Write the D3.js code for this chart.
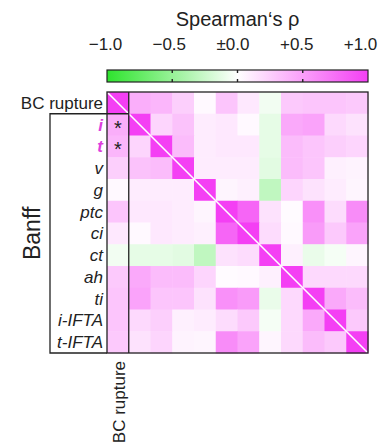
<!DOCTYPE html>
<html>
<head>
<meta charset="utf-8">
<script src="https://cdn.jsdelivr.net/npm/d3@7"></script>
<style>
  body { margin: 0; background: #fff; }
  svg text { font-family: "Liberation Sans", Arial, Helvetica, sans-serif; }
</style>
</head>
<body>
<svg id="chart" width="381" height="444"></svg>
<script>
// variables (rows / columns)
const vars = ['BC rupture', 'i', 't', 'v', 'g', 'ptc', 'ci', 'ct', 'ah', 'ti', 'i-IFTA', 't-IFTA'];
const highlighted = ['i', 't'];
// significant cells: [row, col]
const significant = [[1, 0], [2, 0]];
const cbTicks = [-1, -0.5, 0, 0.5, 1];
const cbTickLabels = ['\u22121.0', '\u22120.5', '\u00b10.0', '+0.5', '+1.0'];

// Spearman's rho
const rho = [
  [1.00, 0.42, 0.38, 0.25, 0.03, 0.30, 0.12, -0.06, 0.28, 0.30, 0.30, 0.28],
  [0.42, 1.00, 0.22, 0.32, 0.10, 0.12, 0.03, -0.12, 0.45, 0.48, 0.20, 0.15],
  [0.38, 0.22, 1.00, 0.35, 0.10, 0.12, 0.12, -0.12, 0.35, 0.30, 0.25, 0.22],
  [0.25, 0.32, 0.35, 1.00, 0.10, 0.10, 0.10, -0.14, 0.35, 0.30, 0.08, 0.06],
  [0.03, 0.10, 0.10, 0.10, 1.00, 0.05, 0.08, -0.30, 0.22, 0.15, 0.10, 0.05],
  [0.30, 0.12, 0.12, 0.10, 0.05, 1.00, 0.80, 0.15, 0.02, 0.58, 0.18, 0.60],
  [0.12, 0.03, 0.12, 0.10, 0.08, 0.80, 1.00, 0.18, 0.03, 0.52, 0.28, 0.48],
  [-0.06, -0.12, -0.12, -0.14, -0.30, 0.15, 0.18, 1.00, 0.08, -0.10, -0.05, 0.05],
  [0.28, 0.45, 0.35, 0.35, 0.22, 0.02, 0.03, 0.08, 1.00, 0.20, 0.20, 0.20],
  [0.30, 0.48, 0.30, 0.30, 0.15, 0.58, 0.52, -0.10, 0.20, 1.00, 0.45, 0.35],
  [0.30, 0.20, 0.25, 0.08, 0.10, 0.18, 0.28, -0.05, 0.20, 0.45, 1.00, 0.28],
  [0.28, 0.15, 0.22, 0.06, 0.05, 0.60, 0.48, 0.05, 0.20, 0.35, 0.28, 1.00]
];

const svg = d3.select('#chart');
const mLeft = 107, mRight = 368, mTop = 92, mBottom = 353;
const n = vars.length;

const x = d3.scaleBand().domain(d3.range(n)).range([mLeft, mRight]);
const y = d3.scaleBand().domain(d3.range(n)).range([mTop, mBottom]);
const color = d3.scaleLinear()
  .domain([-1, 0, 1])
  .range(['#2ee42e', '#ffffff', '#f43ff4']);

// colour bar
const cb = d3.scaleLinear().domain([-1, 1]).range([mLeft, mRight]);
// labels sit a little left of their ticks in the original
const cbLab = d3.scaleLinear().domain([-1, 1]).range([105, 360]);
const grad = svg.append('defs').append('linearGradient')
  .attr('id', 'cbgrad');
d3.range(0, 1.0001, 0.05).forEach(t => {
  grad.append('stop')
    .attr('offset', t)
    .attr('stop-color', color(-1 + 2 * t));
});

svg.append('text')
  .attr('x', cb(0))
  .attr('y', 26)
  .attr('text-anchor', 'middle')
  .attr('font-size', 20)
  .attr('fill', '#222')
  .text('Spearman\u2018s \u03c1');

const cbAxis = svg.append('g')
  .attr('transform', 'translate(0,54)')
  .call(d3.axisTop(cbLab).tickValues(cbTicks).tickSize(0).tickPadding(4)
    .tickFormat((d, i) => cbTickLabels[i]));
cbAxis.select('.domain').remove();
cbAxis.selectAll('text')
  .attr('font-size', 17)
  .attr('font-family', '"Liberation Sans", Arial, sans-serif')
  .attr('fill', '#222');

svg.append('rect')
  .attr('x', mLeft).attr('y', 70)
  .attr('width', mRight - mLeft).attr('height', 12)
  .attr('fill', 'url(#cbgrad)')
  .attr('stroke', '#222').attr('stroke-width', 1.2);

cbTicks.slice(1, -1).forEach(v => {
  svg.append('line').attr('x1', cb(v)).attr('x2', cb(v))
    .attr('y1', 70).attr('y2', 73).attr('stroke', '#222').attr('stroke-width', 1.4);
  svg.append('line').attr('x1', cb(v)).attr('x2', cb(v))
    .attr('y1', 79).attr('y2', 82).attr('stroke', '#222').attr('stroke-width', 1.4);
});

// heatmap cells
const cells = [];
rho.forEach((row, r) => row.forEach((v, c) => cells.push({ r, c, v })));
svg.append('g').selectAll('rect')
  .data(cells)
  .join('rect')
  .attr('x', d => x(d.c))
  .attr('y', d => y(d.r))
  .attr('width', x.bandwidth() + 0.5)
  .attr('height', y.bandwidth() + 0.5)
  .attr('fill', d => color(d.v));

// diagonal
svg.append('line')
  .attr('x1', x(0)).attr('y1', y(0))
  .attr('x2', x(n - 1) + x.bandwidth()).attr('y2', y(n - 1) + y.bandwidth())
  .attr('stroke', '#fff').attr('stroke-width', 1.6);

// significance stars
svg.append('g').selectAll('text')
  .data(significant)
  .join('text')
  .attr('x', d => x(d[1]) + x.bandwidth() / 2)
  .attr('y', d => y(d[0]) + y.bandwidth() / 2 + 10)
  .attr('text-anchor', 'middle')
  .attr('font-size', 20)
  .attr('fill', '#222')
  .text('*');

// row labels
svg.append('g').selectAll('text')
  .data(vars)
  .join('text')
  .attr('x', mLeft - 4)
  .attr('y', (d, i) => y(i) + y.bandwidth() / 2)
  .attr('dy', '0.36em')
  .attr('text-anchor', 'end')
  .attr('font-size', 17)
  .attr('font-style', (d, i) => i === 0 ? 'normal' : 'italic')
  .attr('font-weight', d => highlighted.includes(d) ? 'bold' : 'normal')
  .attr('fill', d => highlighted.includes(d) ? '#dd3ddd' : '#222')
  .text(d => d);

// column label (only BC rupture)
svg.append('text')
  .attr('transform', 'translate(' + (x(0) + x.bandwidth() / 2 + 7) + ',' + (mBottom + 8) + ') rotate(-90)')
  .attr('text-anchor', 'end')
  .attr('font-size', 17)
  .attr('fill', '#222')
  .text(vars[0]);

// Banff group label
svg.append('text')
  .attr('transform', 'translate(40,' + (y(1) + mBottom) / 2 + ') rotate(-90)')
  .attr('text-anchor', 'middle')
  .attr('font-size', 23)
  .attr('fill', '#222')
  .text('Banff');

// frames
const frame = svg.append('g').attr('fill', 'none').attr('stroke', '#222').attr('stroke-width', 1.3);
frame.append('rect')
  .attr('x', mLeft).attr('y', mTop)
  .attr('width', mRight - mLeft).attr('height', mBottom - mTop);
frame.append('line')
  .attr('x1', x(1)).attr('x2', x(1))
  .attr('y1', mTop).attr('y2', mBottom);
frame.append('path')
  .attr('d', 'M' + x(1) + ',' + y(1) + 'H50V' + mBottom + 'H' + mLeft);
</script>
</body>
</html>
